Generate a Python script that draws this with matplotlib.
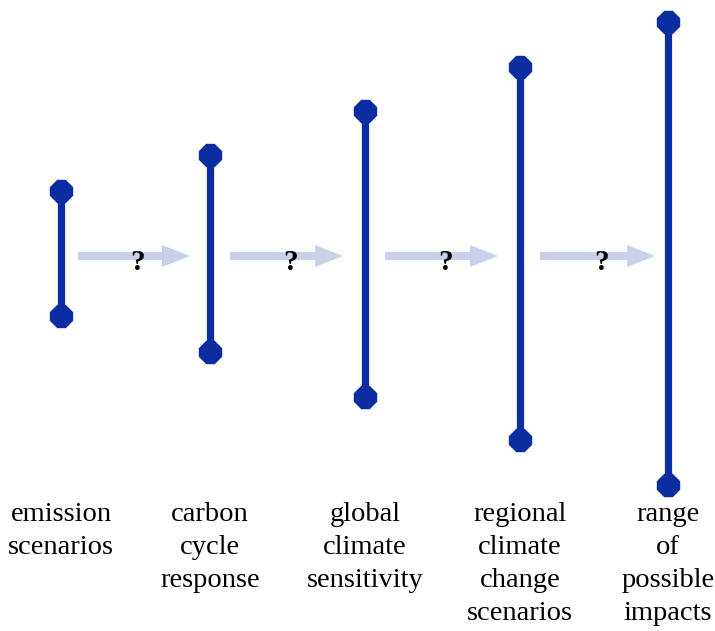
import matplotlib.pyplot as plt
from matplotlib.patches import FancyArrow

# =============================================================================
# 資料
# =============================================================================

stages = ['emission\nscenarios', 'carbon\ncycle\nresponse', 'global\nclimate\nsensitivity',
          'regional\nclimate\nchange\nscenarios', 'range\nof\npossible\nimpacts']
stage_x = [61, 210, 365, 520, 668]
range_top = [191, 155, 111, 67, 22]
range_bottom = [316, 352, 397, 440, 485]
arrow_start = [78, 230, 385, 540]
arrow_end = [190, 343, 498, 655]
arrow_labels = ['?', '?', '?', '?']

BAR_COLOR = '#0b2d9f'
ARROW_COLOR = '#c9d1ea'

fig = plt.figure(figsize=(7.15, 6.31), dpi=100)
ax = fig.add_axes([0, 0, 1, 1])
ax.set_xlim(0, 715)
ax.set_ylim(631, 0)
ax.axis('off')

# 不確定性範圍
for x, t, b in zip(stage_x, range_top, range_bottom):
    ax.plot([x, x], [t, b], color=BAR_COLOR, lw=5.2, solid_capstyle='butt', zorder=2)
    ax.plot([x, x], [t, b], linestyle='none', marker='8', ms=16.5,
            color=BAR_COLOR, zorder=3)

# 箭頭與問號
arrow_y = 256
for x0, x1, q in zip(arrow_start, arrow_end, arrow_labels):
    ax.add_patch(FancyArrow(x0, arrow_y, x1 - x0, 0, width=8, head_width=22,
                            head_length=28, length_includes_head=True,
                            color=ARROW_COLOR, lw=0, zorder=1))
    ax.text((x0 + x1) / 2 + 4, arrow_y + 6, q, ha='center', va='center',
            fontsize=21, fontweight='bold', family='Liberation Serif', zorder=4)

# 標籤
for x, s in zip(stage_x, stages):
    ax.text(x, 502, s, ha='center', va='top', fontsize=20.5,
            family='Liberation Serif', linespacing=1.42)

fig.savefig('out.png', dpi=100)
